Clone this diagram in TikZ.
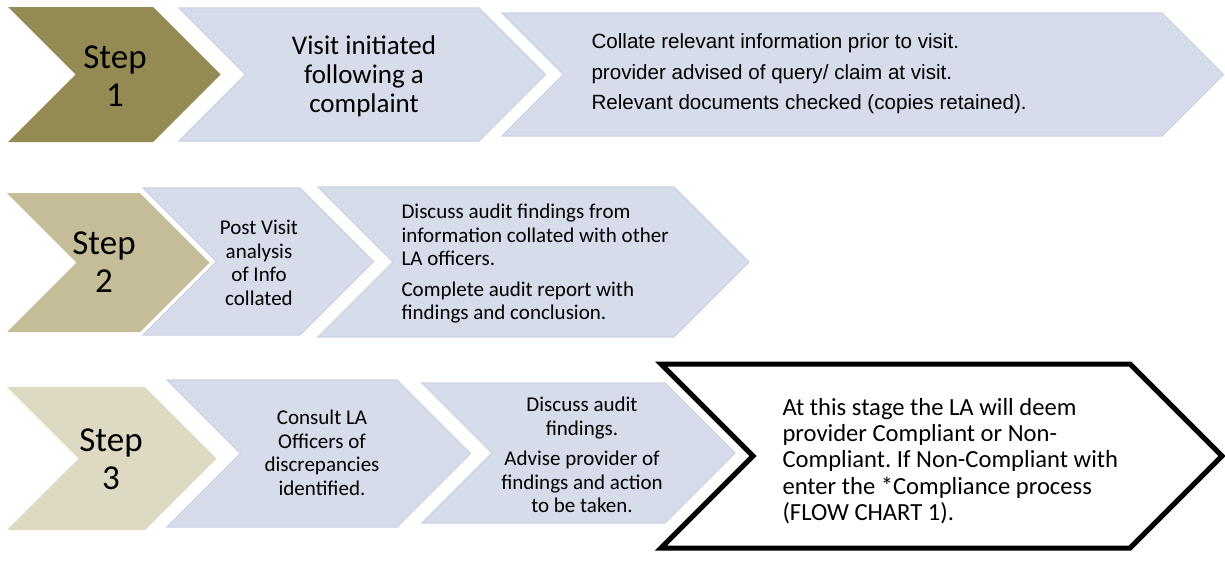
\documentclass[tikz,border=0pt]{standalone}
\usepackage{fontspec}
\setmainfont{Carlito}
\newfontfamily\arialfont{Liberation Sans}
\usepackage{tikz}
\frenchspacing
\definecolor{olivedark}{HTML}{948A54}
\definecolor{tanmid}{HTML}{C4BD97}
\definecolor{tanlight}{HTML}{DDD9C3}
\definecolor{bluefill}{HTML}{D6DCE9}
\definecolor{blueedge}{HTML}{CBD3E5}

\begin{document}
\begin{tikzpicture}[x=1pt,y=-1pt,
    blue chev/.style={fill=bluefill,draw=blueedge,line width=1.2pt},
    olive chev/.style={fill=olivedark},
    tan chev/.style={fill=tanmid},
    pale chev/.style={fill=tanlight},
    final chev/.style={draw=black,fill=white,line width=5pt},
    steptext/.style={align=center,font=\fontsize{35}{38}\selectfont},
    boxtext/.style={align=center,font=\fontsize{21}{23.5}\selectfont}]
  \useasboundingbox (0,0) rectangle (1225,562);
  % chevrons: left x / top y / bottom y / corner x / style
  \foreach \xl/\yt/\yb/\xc/\sty in {8/7/142/153/olive chev,
      179/8/141/479/blue chev,502/13/136/1162/blue chev,
      7/193/332/140/tan chev,143/188/335/300/blue chev,
      318/187/337/674/blue chev,7/387/530/145/pale chev,
      167/380/527/397/blue chev,422/383/523/665/blue chev,
      661/364/548/1130/final chev}{
    \pgfmathsetmacro{\d}{(\yb-\yt)/2}
    \path[\sty] (\xl,\yt) -- (\xc,\yt) -- ++(\d,\d) -- (\xc,\yb) -- (\xl,\yb) -- ++(\d,-\d) -- cycle;
  }

  \node[steptext] (s1) at (115,76) {Step\\1};
  \node[align=center,font=\fontsize{27}{29}\selectfont] (t1) at (364,76) {Visit initiated\\following a\\complaint};
  \node[anchor=west,align=left,font=\arialfont\fontsize{20.6}{30.5}\selectfont] (t2) at (588,74)
    {Collate relevant information prior to visit.\\provider advised of query/ claim at visit.\\Relevant documents checked (copies retained).};

  \node[steptext] (s2) at (104,262) {Step\\2};
  \node[boxtext] (t3) at (259,263) {Post Visit\\analysis\\of Info\\collated};
  \node[boxtext,anchor=west,align=left] (t4) at (398,264)
    {Discuss audit findings from\\information collated with other\\LA officers.\\[7pt]Complete audit report with\\findings and conclusion.};

  \node[steptext] (s3) at (111,459) {Step\\3};
  \node[boxtext] (t5) at (322,453) {Consult LA\\Officers of\\discrepancies\\identified.};
  \node[boxtext] (t6) at (582,455) {Discuss audit\\findings.\\[7pt]Advise provider of\\findings and action\\to be taken.};
  \node[anchor=west,align=left,font=\fontsize{24.6}{26.3}\selectfont] (t7) at (779,461)
    {At this stage the LA will deem\\provider Compliant or Non-\\Compliant. If Non-Compliant with\\enter the *Compliance process\\(FLOW CHART 1).};
\end{tikzpicture}
\end{document}
